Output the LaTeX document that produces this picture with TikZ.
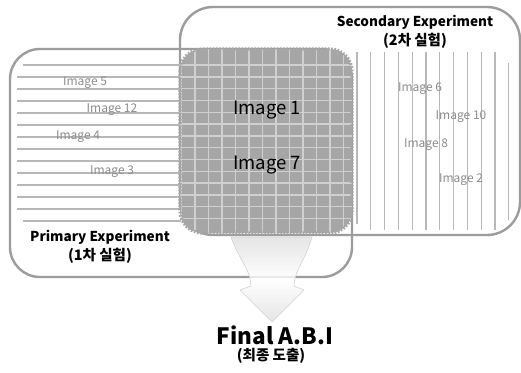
\documentclass[tikz,border=0pt]{standalone}
\usepackage{fontspec}
\setmainfont{Noto Sans CJK KR}
\definecolor{boxline}{HTML}{9C9C9C}
\definecolor{stripe}{HTML}{B8B8B8}
\definecolor{overlap}{HTML}{A6A6A6}
\definecolor{gridline}{HTML}{D0D0D0}
\definecolor{labelgray}{HTML}{8C8C8C}
\tikzset{
  expbox/.style={draw=boxline, line width=2.4pt},
  stripeline/.style={draw=stripe, line width=1.1pt},
  gridstroke/.style={draw=gridline, line width=1.4pt},
  imglabel/.style={text=labelgray, font=\fontsize{12}{14}\selectfont, inner sep=0pt},
  biglabel/.style={text=black, font=\fontsize{18.5}{22}\selectfont, inner sep=0pt},
  title/.style={align=center, inner sep=0pt, font=\bfseries\fontsize{13.6}{19}\selectfont},
}
\newcommand\krline[1]{{\fontsize{14.5}{19}\selectfont #1}}
\begin{document}
\begin{tikzpicture}[x=1pt,y=-1pt]
\useasboundingbox[fill=white] (0,0) rectangle (521,372);

% outlines of the two experiment sets
\draw[expbox, rounded corners=30] (10,49) rectangle (352,277);
\draw[expbox, rounded corners=33] (180,7) rectangle (520,235);

% horizontal stripes of the primary set
\foreach \k in {1,...,12}
  \draw[stripeline] (17,65+12*\k) -- (181,65+12*\k);
\draw[stripeline] (23,65) -- (181,65);
\draw[stripeline] (23,221) -- (181,221);

% vertical stripes of the secondary set
\foreach \k in {1,...,10}
  \draw[stripeline] (357+13.8*\k,52) -- (357+13.8*\k,230);
\draw[stripeline] (357,52) -- (357,224);
\draw[stripeline] (508.8,63) -- (508.8,220);

% overlap region: grey field with both stripe sets crossing
\fill[overlap, rounded corners=22] (180,49) rectangle (352,233);
\begin{scope}
  \clip[rounded corners=22] (180,49) rectangle (352,233);
  \foreach \k in {0,...,13}
    \draw[gridstroke] (180,65+11.8*\k) -- (352,65+11.8*\k);
  \foreach \k in {1,...,13}
    \draw[gridstroke] (357-13.5*\k,49) -- (357-13.5*\k,233);
\end{scope}
\draw[overlap, line width=3.2pt, dash pattern=on 1.6pt off 1.6pt, rounded corners=22]
  (180,49) rectangle (352,233);

% funnel arrow towards the final result
\path[top color=gray!25, bottom color=gray!25, middle color=white, fill opacity=0.8,
      draw=gray!35, line width=0.6pt]
  (231,237) .. controls (240,262) and (250,268) .. (251,286)
  -- (240,290) -- (272,322) -- (304,290) -- (294,286)
  .. controls (295,268) and (305,262) .. (312,237) -- cycle;

% labels
\node[biglabel] (i1) at (267,110) {Image 1};
\node[biglabel] (i7) at (267,165) {Image 7};

\node[imglabel] (i5)  at (85,83)   {Image 5};
\node[imglabel] (i12) at (112,110) {Image 12};
\node[imglabel] (i4)  at (78,137)  {Image 4};
\node[imglabel] (i3)  at (112,172) {Image 3};

\node[imglabel] (i6)  at (420,89)  {Image 6};
\node[imglabel] (i10) at (461,117) {Image 10};
\node[imglabel] (i8)  at (426,145) {Image 8};
\node[imglabel] (i2)  at (461,180) {Image 2};

\node[title] (sec) at (415,32) {Secondary Experiment\\\krline{(2차 실험)}};
\node[title] (pri) at (100,247) {Primary Experiment\\\krline{(1차 실험)}};

\node[inner sep=0pt, font=\bfseries\fontsize{22.5}{26}\selectfont] (fin) at (275,335) {Final A.B.I};
\node[inner sep=0pt, font=\bfseries\fontsize{14.5}{16}\selectfont] (finkr) at (271,356) {(최종 도출)};
\end{tikzpicture}
\end{document}
